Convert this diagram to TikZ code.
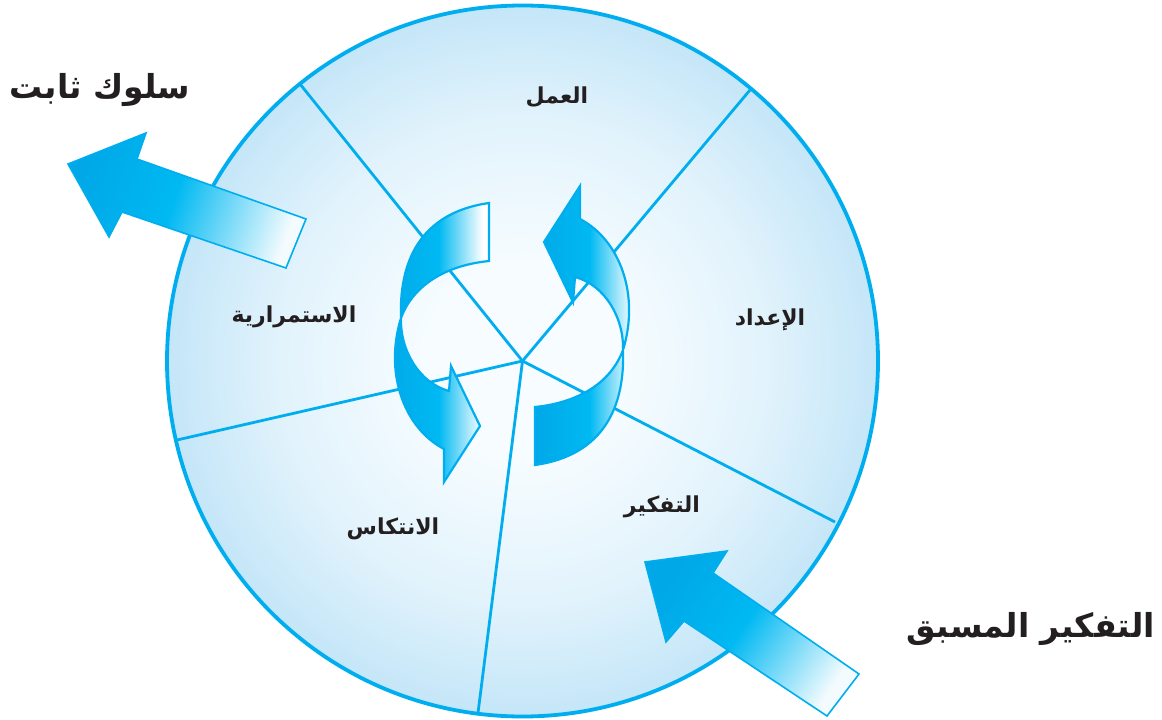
\documentclass[tikz,border=0pt]{standalone}
\usepackage{fontspec}
\TeXXeTstate=1
\newfontfamily\arabicfont[Script=Arabic]{DejaVu Sans}
\definecolor{cy}{HTML}{00AEEF}
\definecolor{cA}{HTML}{00A8E8}
\definecolor{cB}{HTML}{00B9F2}
\definecolor{cC}{HTML}{F4FBFE}
\definecolor{rimblue}{HTML}{C4E6F8}
\definecolor{midblue}{HTML}{E2F3FC}
\definecolor{coreblue}{HTML}{F6FCFF}
\definecolor{ink}{HTML}{231F20}
\pgfdeclareradialshading{wheelsh}{\pgfpoint{0bp}{0bp}}{color(0bp)=(coreblue); color(7bp)=(coreblue); color(17bp)=(midblue); color(25bp)=(rimblue); color(50bp)=(rimblue)}
\pgfdeclarehorizontalshading{cycsh}{100bp}{color(0bp)=(cA); color(25bp)=(cA); color(51bp)=(cB); color(72bp)=(white); color(100bp)=(white)}
\pgfdeclarehorizontalshading{blocksh}{100bp}{color(0bp)=(cA); color(25bp)=(cA); color(47bp)=(cB); color(75bp)=(cC); color(100bp)=(cC)}
\tikzset{
  wheel/.style={shading=wheelsh},
  rim/.style={draw=cy, line width=3.8pt},
  spoke/.style={draw=cy, line width=2.8pt},
  cyclearrow/.style={shading=cycsh, draw=cy, line width=2.2pt, line join=miter},
  blockarrow/.style={shading=blocksh, draw=cy, line width=1.6pt, line join=miter},
  lbl/.style={font=\arabicfont\bfseries\fontsize{22}{26}\selectfont, text=ink, inner sep=0pt},
  biglbl/.style={font=\arabicfont\bfseries\fontsize{33}{38}\selectfont, text=ink, inner sep=0pt}
}
\begin{document}
\begin{tikzpicture}[x=1pt,y=-1pt]
\useasboundingbox (0,0) rectangle (1162,720);
% wheel
\coordinate (c) at (522.5,361);
\path[wheel] (c) circle (355.5);
\coordinate (e1) at (300,84);
\coordinate (e2) at (750,90);
\coordinate (e3) at (835,522);
\coordinate (e4) at (478,713);
\coordinate (e5) at (177,440);
\foreach \e in {e1,e2,e3,e4,e5} \draw[spoke] (c) -- (\e);
\draw[rim] (c) circle (355.5);
% labels
\node[lbl] (amal) at (557,97) {\beginR العمل\endR};
\node[lbl] (iedad) at (770,320) {\beginR الإعداد\endR};
\node[lbl] (tafkir) at (662,507) {\beginR التفكير\endR};
\node[lbl] (intikas) at (393,529) {\beginR الانتكاس\endR};
\node[lbl] (istimrar) at (294,317) {\beginR الاستمرارية\endR};
\node[biglbl] (thabit) at (100,90) {\beginR سلوك ثابت\endR};
\node[biglbl] (musbaq) at (1031,629) {\beginR التفكير المسبق\endR};
% cycle arrows
\path[cyclearrow] (544,242) -- (580,186) -- (580,219)
  .. controls (620,240) and (640,295) .. (623,350)
  .. controls (625,405) and (605,455) .. (535,465) -- (535,407)
  .. controls (575,403) and (610,385) .. (623,350)
  .. controls (624,318) and (605,285) .. (575,277) -- (573,302) -- cycle;
\path[cyclearrow] (480,426) -- (444,482) -- (444,449)
  .. controls (404,428) and (384,373) .. (401,318)
  .. controls (399,263) and (419,213) .. (489,203) -- (489,261)
  .. controls (449,265) and (414,283) .. (401,318)
  .. controls (400,350) and (419,383) .. (449,391) -- (451,366) -- cycle;
% block arrows
\path[blockarrow, shading angle=-19] (68,164) -- (146,133) -- (137,159) -- (306,219) -- (286,268) -- (122,212) -- (109,237) -- cycle;
\path[blockarrow, shading angle=-34] (645,562) -- (727,551) -- (713,573) -- (859,674) -- (827,716) -- (684,621) -- (666,642) -- cycle;
\end{tikzpicture}
\end{document}
